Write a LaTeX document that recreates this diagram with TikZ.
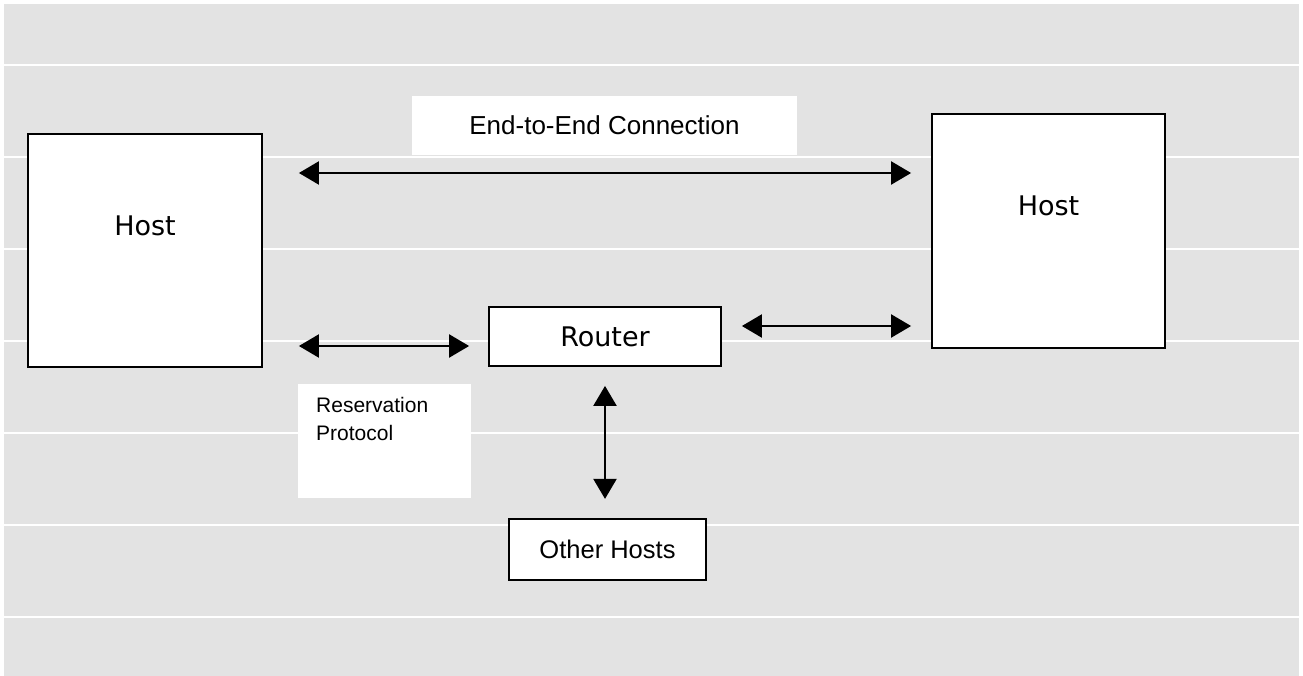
\documentclass[tikz,border=0pt]{standalone}
\usepackage{fontspec}
\setmainfont{DejaVu Sans}
\newfontfamily\lbfont{Liberation Sans}
\usetikzlibrary{arrows.meta,positioning}
\definecolor{panelgray}{RGB}{227,227,227}

\tikzset{
  box/.style={draw, line width=1.8pt, fill=white, inner sep=0pt},
  tag/.style={fill=white, inner sep=0pt},
  link/.style={line width=2.2pt, {Triangle[length=20pt,width=23pt]}-{Triangle[length=20pt,width=23pt]}},
}

\begin{document}
\begin{tikzpicture}[x=1pt, y=-1pt]
  \useasboundingbox (0,0) rectangle (1303,676);
  \fill[panelgray] (4,4) rectangle (1299,676);
  \foreach \y in {65,157,...,617} {
    \draw[white, line width=2pt] (4,\y) -- (1299,\y);
  }

  % hosts and router
  \node[box, minimum width=234pt, minimum height=233pt, text height=20pt, text depth=49pt,
        font=\fontsize{27}{32}\selectfont] (hostL) at (145,250.5) {Host};
  \node[box, minimum width=233pt, minimum height=234pt, text height=20pt, text depth=50pt,
        font=\fontsize{27}{32}\selectfont] (hostR) at (1048.5,231) {Host};
  \node[box, minimum width=232pt, minimum height=59pt,
        font=\fontsize{27}{32}\selectfont] (router) at (605,336.5) {Router};
  \node[box, minimum width=197pt, minimum height=61pt, below=151pt of router, xshift=2.5pt,
        font=\lbfont\fontsize{25.5}{30}\selectfont] (other) {Other Hosts};

  % labels
  \node[tag, minimum width=385pt, minimum height=59pt,
        font=\lbfont\fontsize{26}{31}\selectfont] (e2e) at (604.5,125.5) {End-to-End Connection};
  \node[tag, anchor=north west, inner xsep=18pt, inner ysep=13pt, text width=137pt,
        text height=15pt, text depth=73pt, align=left,
        font=\lbfont\fontsize{21}{28}\selectfont] (resv) at (298,384) {Reservation\\Protocol};

  % connectors
  \draw[link, shorten <=36pt, shorten >=20pt] (hostL.east |- 0,173) -- (hostR.west |- 0,173);
  \draw[link, shorten <=36pt, shorten >=19pt] (hostL.east |- 0,346) -- (router.west |- 0,346);
  \draw[link, shorten <=20pt, shorten >=20pt] (router.east |- 0,326) -- (hostR.west |- 0,326);
  \draw[link, shorten <=19pt, shorten >=19pt] (router.south) -- (router.south |- other.north);
\end{tikzpicture}
\end{document}
